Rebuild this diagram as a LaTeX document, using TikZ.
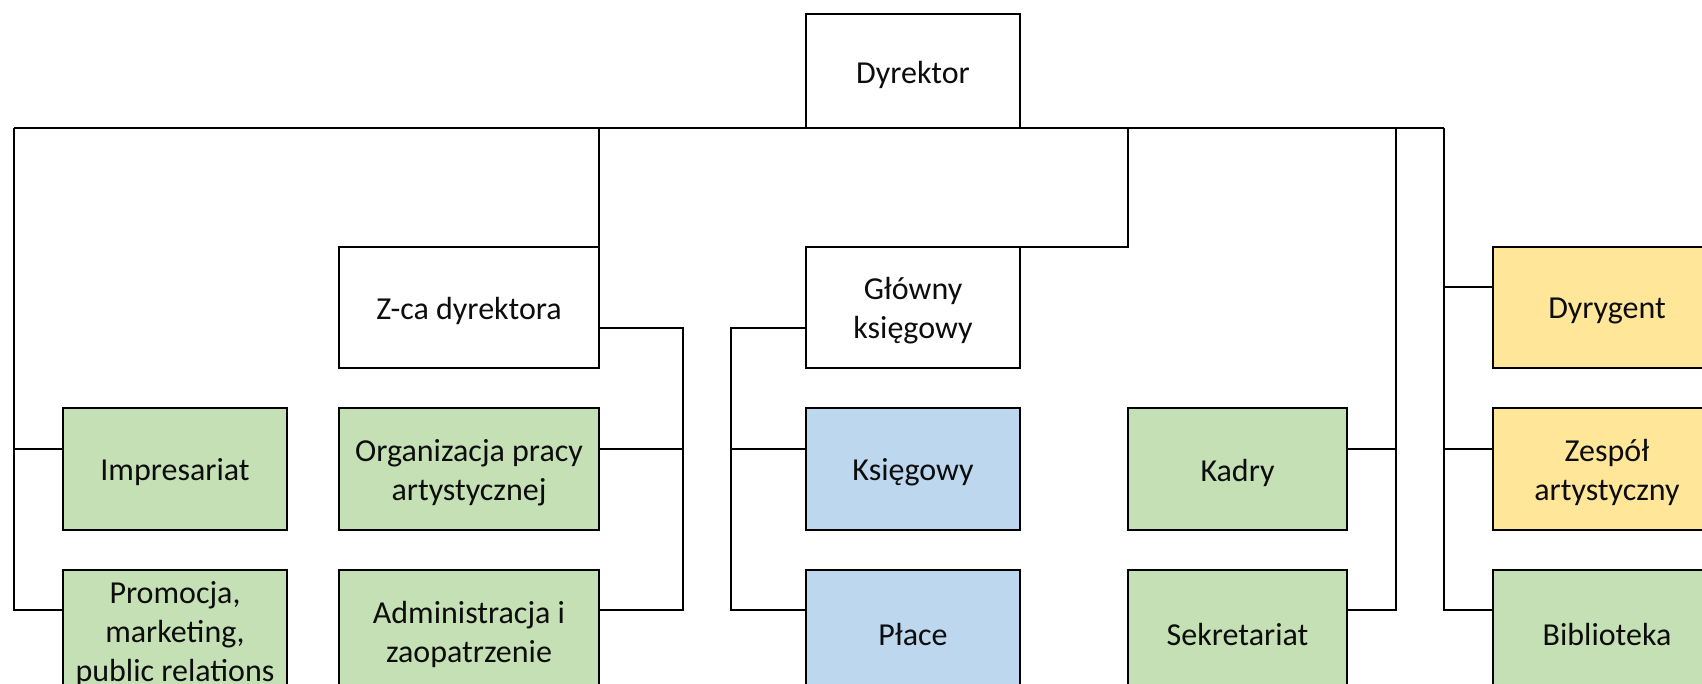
\documentclass[tikz,border=0pt]{standalone}
\usepackage{fontspec}
\setmainfont{Carlito}
\definecolor{boxgreen}{HTML}{C5E0B4}
\definecolor{boxblue}{HTML}{BDD7EE}
\definecolor{boxyellow}{HTML}{FFE699}
\definecolor{txtcol}{HTML}{0D0D0D}
\begin{document}
\begin{tikzpicture}[x=1pt,y=-1pt,
  lbl/.style={font=\fontsize{32}{39}\selectfont,text=txtcol,align=center,inner sep=0pt,yshift=-3.5pt},
  orgbox/.style={draw=black,line width=2pt,rectangle,inner sep=0pt,outer sep=0pt},
  wbox/.style={orgbox,fill=white},
  gbox/.style={orgbox,fill=boxgreen},
  bbox/.style={orgbox,fill=boxblue},
  ybox/.style={orgbox,fill=boxyellow},
  conn/.style={draw=black,line width=2pt,line join=miter}]
\useasboundingbox (0,0) rectangle (1702,684);
\clip (0,0) rectangle (1702,684);
\fill[white] (0,0) rectangle (1702,684);

% boxes
\node[wbox,minimum width=214pt,minimum height=114pt,label={[lbl]center:Dyrektor}] (dyr) at (913,71) {};
\node[wbox,minimum width=260pt,minimum height=121pt,label={[lbl]center:Z-ca dyrektora}] (zca) at (469,307.5) {};
\node[wbox,minimum width=214pt,minimum height=121pt,label={[lbl]center:Główny\\księgowy}] (glo) at (913,307.5) {};
\node[gbox,minimum width=224pt,minimum height=122pt,label={[lbl]center:Impresariat}] (imp) at (175,469) {};
\node[gbox,minimum width=224pt,minimum height=122pt,label={[lbl]center:Promocja,\\marketing,\\public relations}] (pro) at (175,631) {};
\node[gbox,minimum width=260pt,minimum height=122pt,label={[lbl]center:Organizacja pracy\\artystycznej}] (org) at (469,469) {};
\node[gbox,minimum width=260pt,minimum height=122pt,label={[lbl]center:Administracja i\\zaopatrzenie}] (adm) at (469,631) {};
\node[bbox,minimum width=214pt,minimum height=122pt,label={[lbl]center:Księgowy}] (ksi) at (913,469) {};
\node[bbox,minimum width=214pt,minimum height=122pt,label={[lbl]center:Płace}] (pla) at (913,631) {};
\node[gbox,minimum width=219pt,minimum height=122pt,label={[lbl]center:Kadry}] (kad) at (1237.5,469) {};
\node[gbox,minimum width=219pt,minimum height=122pt,label={[lbl]center:Sekretariat}] (sek) at (1237.5,631) {};
\node[ybox,minimum width=228pt,minimum height=121pt,label={[lbl]center:Dyrygent}] (dyg) at (1607,307.5) {};
\node[ybox,minimum width=228pt,minimum height=122pt,label={[lbl]center:Zespół\\artystyczny}] (zes) at (1607,469) {};
\node[gbox,minimum width=228pt,minimum height=122pt,label={[lbl]center:Biblioteka}] (bib) at (1607,631) {};

% junction coordinates
\coordinate (busL) at (13.5,128);
\coordinate (busR) at (1444,128);
\coordinate (l1) at (13.5,449);
\coordinate (l2) at (13.5,610);
\coordinate (z1) at (682.5,328);
\coordinate (z2) at (682.5,449);
\coordinate (z3) at (682.5,610);
\coordinate (g0) at (1128,128);
\coordinate (g1) at (1128,247);
\coordinate (k1) at (731,328);
\coordinate (k2) at (731,449);
\coordinate (k3) at (731,610);
\coordinate (s0) at (1396,128);
\coordinate (s1) at (1396,449);
\coordinate (s2) at (1396,610);
\coordinate (r1) at (1444,287);
\coordinate (r2) at (1444,449);
\coordinate (r3) at (1444,610);

% connectors
\draw[conn] (dyr.south) -- (busL);
\draw[conn] (dyr.south) -- (busR);
\draw[conn] (busL) -- (l2) -- (l2 -| pro.west);
\draw[conn] (l1) -- (l1 -| imp.west);
\draw[conn] (zca.north east |- busL) -- (zca.north east);
\draw[conn] (z1 -| zca.east) -- (z1) -- (z3) -- (z3 -| adm.east);
\draw[conn] (z2) -- (z2 -| org.east);
\draw[conn] (g0) -- (g1) -- (glo.north east);
\draw[conn] (k1 -| glo.west) -- (k1) -- (k3) -- (k3 -| pla.west);
\draw[conn] (k2) -- (k2 -| ksi.west);
\draw[conn] (s0) -- (s2) -- (s2 -| sek.east);
\draw[conn] (s1) -- (s1 -| kad.east);
\draw[conn] (busR) -- (r3) -- (r3 -| bib.west);
\draw[conn] (r1) -- (r1 -| dyg.west);
\draw[conn] (r2) -- (r2 -| zes.west);
\end{tikzpicture}
\end{document}
